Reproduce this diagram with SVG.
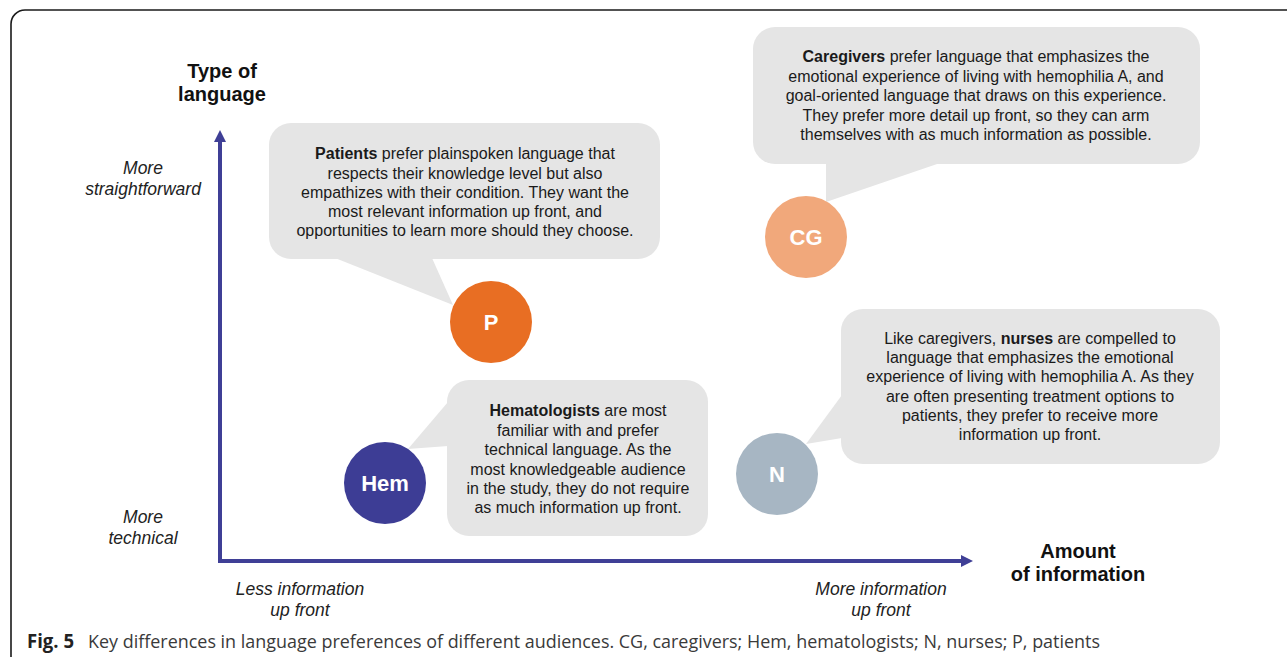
<svg xmlns="http://www.w3.org/2000/svg" width="1287" height="657" viewBox="0 0 1287 657">
<style>
  .bubble { fill: #e5e5e5; }
  .btxt { font-family: "Liberation Sans", Arial, sans-serif; font-size: 16px; fill: #1a1a1a; text-anchor: middle; }
  .b { font-weight: bold; }
  .clbl { font-family: "Liberation Sans", Arial, sans-serif; font-size: 22px; font-weight: bold; fill: #ffffff; text-anchor: middle; }
  .ttl { font-family: "Liberation Sans", Arial, sans-serif; font-size: 20px; font-weight: bold; fill: #111; text-anchor: middle; }
  .ital { font-family: "Liberation Sans", Arial, sans-serif; font-size: 17.5px; font-style: italic; fill: #222; text-anchor: middle; }
  .axis { stroke: #3f3f96; stroke-width: 4; fill: none; }
  .cap { font-family: "Open Sans", "Noto Sans", sans-serif; font-size: 18px; fill: #3a3a3a; }
</style>
<defs>
  <marker id="ah" viewBox="0 0 10 10" refX="0" refY="5" markerWidth="3" markerHeight="3" orient="auto" markerUnits="strokeWidth">
    <path d="M0,0 L10,5 L0,10 Z" fill="#3f3f96"/>
  </marker>
</defs>
<path d="M 11 657 V 24 A 14 14 0 0 1 25 10 H 1287" fill="none" stroke="#1a1a1a" stroke-width="1.6"/>

<g id="connectors">
  <path class="axis" d="M 220 563 V 142" marker-end="url(#ah)"/>
  <path class="axis" d="M 218 561 H 961" marker-end="url(#ah)"/>
</g>

<g id="axis-labels">
  <text class="ttl" x="222" y="78">Type of</text>
  <text class="ttl" x="222" y="101">language</text>
  <text class="ital" x="143" y="174">More</text>
  <text class="ital" x="143" y="195">straightforward</text>
  <text class="ital" x="143" y="523">More</text>
  <text class="ital" x="143" y="544">technical</text>
  <text class="ttl" x="1078" y="558">Amount</text>
  <text class="ttl" x="1078" y="581">of information</text>
  <text class="ital" x="300" y="595">Less information</text>
  <text class="ital" x="300" y="616">up front</text>
  <text class="ital" x="881" y="595">More information</text>
  <text class="ital" x="881" y="616">up front</text>
</g>

<g id="patients">
  <rect class="bubble" x="269" y="123" width="391" height="136" rx="22"/>
  <polygon class="bubble" points="335,258 453,305 432,258"/>
  <text class="btxt" x="465" y="159"><tspan class="b">Patients</tspan> prefer plainspoken language that</text>
  <text class="btxt" x="465" y="178.5">respects their knowledge level but also</text>
  <text class="btxt" x="465" y="197.5">empathizes with their condition. They want the</text>
  <text class="btxt" x="465" y="217">most relevant information up front, and</text>
  <text class="btxt" x="465" y="236">opportunities to learn more should they choose.</text>
  <circle cx="491" cy="322" r="41" fill="#e86e23"/>
  <text class="clbl" x="491" y="330">P</text>
</g>

<g id="caregivers">
  <rect class="bubble" x="753" y="27" width="447" height="137" rx="22"/>
  <polygon class="bubble" points="826,163 826,202 940,163"/>
  <text class="btxt" x="976" y="62"><tspan class="b">Caregivers</tspan> prefer language that emphasizes the</text>
  <text class="btxt" x="976" y="81.5">emotional experience of living with hemophilia A, and</text>
  <text class="btxt" x="976" y="101">goal-oriented language that draws on this experience.</text>
  <text class="btxt" x="976" y="120.5">They prefer more detail up front, so they can arm</text>
  <text class="btxt" x="976" y="140">themselves with as much information as possible.</text>
  <circle cx="806" cy="237" r="41" fill="#f1a87b"/>
  <text class="clbl" x="806" y="245">CG</text>
</g>

<g id="hematologists">
  <rect class="bubble" x="447" y="380" width="261" height="156" rx="22"/>
  <polygon class="bubble" points="448,402 408,449 448,446"/>
  <text class="btxt" x="578" y="416"><tspan class="b">Hematologists</tspan> are most</text>
  <text class="btxt" x="578" y="435.5">familiar with and prefer</text>
  <text class="btxt" x="578" y="455">technical language. As the</text>
  <text class="btxt" x="578" y="474.5">most knowledgeable audience</text>
  <text class="btxt" x="578" y="494">in the study, they do not require</text>
  <text class="btxt" x="578" y="513">as much information up front.</text>
  <circle cx="385" cy="483" r="41" fill="#3d3d95"/>
  <text class="clbl" x="385" y="491">Hem</text>
</g>

<g id="nurses">
  <rect class="bubble" x="841" y="309" width="379" height="155" rx="22"/>
  <polygon class="bubble" points="842,395 806,444 842,438"/>
  <text class="btxt" x="1030" y="343.5">Like caregivers, <tspan class="b">nurses</tspan> are compelled to</text>
  <text class="btxt" x="1030" y="363">language that emphasizes the emotional</text>
  <text class="btxt" x="1030" y="382">experience of living with hemophilia A. As they</text>
  <text class="btxt" x="1030" y="401.5">are often presenting treatment options to</text>
  <text class="btxt" x="1030" y="421">patients, they prefer to receive more</text>
  <text class="btxt" x="1030" y="440">information up front.</text>
  <circle cx="777" cy="474" r="41" fill="#a7b6c3"/>
  <text class="clbl" x="777" y="482">N</text>
</g>

<g id="caption">
  <text x="27" y="648" font-family="'Open Sans', 'Noto Sans', sans-serif" font-size="19" font-weight="bold" fill="#222" textLength="47" lengthAdjust="spacingAndGlyphs">Fig. 5</text>
  <text class="cap" x="88" y="648" textLength="1012" lengthAdjust="spacingAndGlyphs">Key differences in language preferences of different audiences. CG, caregivers; Hem, hematologists; N, nurses; P, patients</text>
</g>
</svg>
